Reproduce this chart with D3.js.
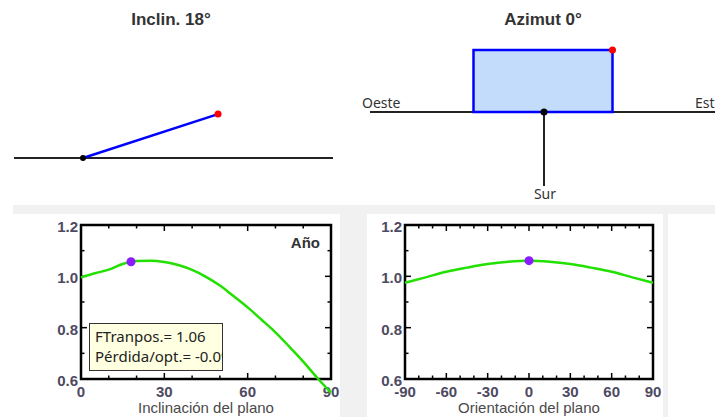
<!DOCTYPE html>
<html>
<head>
<meta charset="utf-8">
<script src="https://cdn.jsdelivr.net/npm/d3@7"></script>
<style>
  body { margin: 0; background: #fff; }
  svg { display: block; }
</style>
</head>
<body>
<div id="chart"></div>
<script>
const inclination = 18,
  azimuth = 0,
  fTranspos = 1.06;

const inclDeg = [0, 5, 10, 15, 18, 20, 25, 30, 35, 40, 45, 50, 55, 60, 65, 70, 75, 80, 85, 90];
const inclFactor = [0.996, 1.012, 1.026, 1.048, 1.057, 1.060, 1.061, 1.056, 1.044, 1.025, 0.998, 0.964, 0.922, 0.879, 0.831, 0.782, 0.726, 0.668, 0.605, 0.547];

const orientDeg = [-90, -75, -60, -45, -30, -15, 0, 15, 30, 45, 60, 75, 90];
const orientFactor = [0.975, 0.996, 1.018, 1.034, 1.048, 1.057, 1.061, 1.057, 1.048, 1.034, 1.018, 0.996, 0.975];

const yTicks = [0.6, 0.8, 1.0, 1.2];
const inclTicks = [0, 30, 60, 90];
const orientTicks = [-90, -60, -30, 0, 30, 60, 90];

const width = 715, height = 417;
const tickFont = "'Liberation Sans', Arial, sans-serif";
const labelColor = "#4e4a62";

const svg = d3.select("#chart")
  .append("svg")
  .attr("width", width)
  .attr("height", height);

// background panels
svg.append("rect").attr("x", 13).attr("y", 205).attr("width", width - 13).attr("height", 9).attr("fill", "#f1f1f1");
svg.append("rect").attr("x", 340).attr("y", 205).attr("width", 27).attr("height", height - 205).attr("fill", "#f1f1f1");
svg.append("rect").attr("x", 663).attr("y", 205).attr("width", 5).attr("height", height - 205).attr("fill", "#f1f1f1");

// ---------- top left: inclination sketch ----------
svg.append("text")
  .attr("x", 171).attr("y", 25)
  .attr("text-anchor", "middle")
  .attr("font-family", tickFont)
  .attr("font-weight", "bold")
  .attr("font-size", 17)
  .attr("fill", "#333")
  .text(`Inclin. ${inclination}°`);

const pivot = [83, 158], panelLen = 142;
const tip = [pivot[0] + panelLen * Math.cos(inclination * Math.PI / 180),
             pivot[1] - panelLen * Math.sin(inclination * Math.PI / 180)];

svg.append("line")
  .attr("x1", 14).attr("x2", 333).attr("y1", pivot[1]).attr("y2", pivot[1])
  .attr("stroke", "#222").attr("stroke-width", 2);
svg.append("line")
  .attr("x1", pivot[0]).attr("y1", pivot[1]).attr("x2", tip[0]).attr("y2", tip[1])
  .attr("stroke", "#0000ff").attr("stroke-width", 2.5);
svg.append("circle").attr("cx", pivot[0]).attr("cy", pivot[1]).attr("r", 3).attr("fill", "#000");
svg.append("circle").attr("cx", tip[0]).attr("cy", tip[1]).attr("r", 3.5).attr("fill", "#ff0000");

// ---------- top right: azimuth sketch ----------
svg.append("text")
  .attr("x", 543).attr("y", 25)
  .attr("text-anchor", "middle")
  .attr("font-family", tickFont)
  .attr("font-weight", "bold")
  .attr("font-size", 17)
  .attr("fill", "#333")
  .text(`Azimut ${azimuth}°`);

const center = [544, 112];
svg.append("line")
  .attr("x1", 370).attr("x2", width).attr("y1", center[1]).attr("y2", center[1])
  .attr("stroke", "#222").attr("stroke-width", 2);
svg.append("line")
  .attr("x1", center[0]).attr("x2", center[0]).attr("y1", center[1]).attr("y2", 186)
  .attr("stroke", "#222").attr("stroke-width", 2);

const plan = svg.append("g")
  .attr("transform", `rotate(${-azimuth},${center[0]},${center[1]})`);
plan.append("rect")
  .attr("x", center[0] - 70.5).attr("y", center[1] - 62)
  .attr("width", 139).attr("height", 62)
  .attr("fill", "#c4dcfb")
  .attr("stroke", "#0000ff").attr("stroke-width", 2.5);
plan.append("circle").attr("cx", center[0] + 68.5).attr("cy", center[1] - 62).attr("r", 3.5).attr("fill", "#ff0000");
svg.append("circle").attr("cx", center[0]).attr("cy", center[1]).attr("r", 3.5).attr("fill", "#000");

const compass = svg.append("g")
  .attr("font-family", "'Noto Sans', 'Open Sans', sans-serif")
  .attr("font-size", 14)
  .attr("fill", "#333");
compass.append("text").attr("x", 362).attr("y", 108).text("Oeste");
compass.append("text").attr("x", 695).attr("y", 108).text("Est");
compass.append("text").attr("x", 545).attr("y", 199).attr("text-anchor", "middle").text("Sur");

// ---------- bottom plots ----------
const y = d3.scaleLinear().domain([0.6, 1.2]).range([379, 225]);

function plotFrame(x, majorTicks, minorStep, title) {
  const [x0, x1] = x.range();
  const [y0, y1] = y.range();
  const g = svg.append("g");
  const minorX = d3.range(x.domain()[0], x.domain()[1] + 0.001, minorStep);
  const minorY = d3.range(0.6, 1.2001, 0.1);

  // ticks on all four sides, inward
  const ticks = g.append("g").attr("stroke", "#000").attr("stroke-width", 1.5);
  minorX.forEach(v => {
    const len = majorTicks.includes(v) ? 6 : 3.5;
    ticks.append("line").attr("x1", x(v)).attr("x2", x(v)).attr("y1", y0).attr("y2", y0 - len);
    ticks.append("line").attr("x1", x(v)).attr("x2", x(v)).attr("y1", y1).attr("y2", y1 + len);
  });
  minorY.forEach((v, i) => {
    const len = i % 2 === 0 ? 6 : 3.5;
    ticks.append("line").attr("x1", x0).attr("x2", x0 + len).attr("y1", y(v)).attr("y2", y(v));
    ticks.append("line").attr("x1", x1).attr("x2", x1 - len).attr("y1", y(v)).attr("y2", y(v));
  });

  g.append("rect")
    .attr("x", x0).attr("y", y1)
    .attr("width", x1 - x0).attr("height", y0 - y1)
    .attr("fill", "none").attr("stroke", "#000").attr("stroke-width", 2.5);

  const labels = g.append("g")
    .attr("font-family", tickFont)
    .attr("font-size", 15)
    .attr("fill", labelColor);
  labels.selectAll(".yl")
    .data(yTicks)
    .join("text")
    .attr("x", x0 - 3)
    .attr("y", d => y(d) + 7)
    .attr("text-anchor", "end")
    .attr("font-weight", "bold")
    .text(d => d.toFixed(1));
  labels.selectAll(".xl")
    .data(majorTicks)
    .join("text")
    .attr("x", d => x(d))
    .attr("y", 397)
    .attr("text-anchor", "middle")
    .attr("font-weight", "bold")
    .text(d => d);
  labels.append("text")
    .attr("x", (x0 + x1) / 2)
    .attr("y", 413)
    .attr("text-anchor", "middle")
    .attr("fill", "#4a4a4a")
    .text(title);
  return g;
}

function curve(x, xs, vs, markAt, markVal) {
  const line = d3.line().x((d, i) => x(xs[i])).y(d => y(d)).curve(d3.curveMonotoneX);
  svg.append("path")
    .datum(vs)
    .attr("d", line)
    .attr("fill", "none")
    .attr("stroke", "#22e000")
    .attr("stroke-width", 2.5);
  svg.append("circle")
    .attr("cx", x(markAt)).attr("cy", y(markVal))
    .attr("r", 4.5).attr("fill", "#8a1cff");
}

// plot 1: inclination
const xIncl = d3.scaleLinear().domain([0, 90]).range([81, 331]);
plotFrame(xIncl, inclTicks, 10, "Inclinación del plano");
curve(xIncl, inclDeg, inclFactor, inclination, inclFactor[inclDeg.indexOf(inclination)]);

svg.append("text")
  .attr("x", 320).attr("y", 248)
  .attr("text-anchor", "end")
  .attr("font-family", tickFont)
  .attr("font-weight", "bold")
  .attr("font-size", 15)
  .attr("fill", "#333")
  .text("Año");

// info box
svg.append("clipPath").attr("id", "boxclip")
  .append("rect").attr("x", 89).attr("y", 323).attr("width", 134).attr("height", 48);
svg.append("rect")
  .attr("x", 89.5).attr("y", 323.5).attr("width", 133).attr("height", 47)
  .attr("fill", "#ffffe1").attr("stroke", "#333").attr("stroke-width", 1);
const info = svg.append("g")
  .attr("clip-path", "url(#boxclip)")
  .attr("font-family", "'Noto Sans', 'Open Sans', sans-serif")
  .attr("font-size", 15)
  .attr("fill", "#222");
info.append("text").attr("x", 95).attr("y", 342).text(`FTranpos.= ${fTranspos.toFixed(2)}`);
info.append("text").attr("x", 95).attr("y", 362).text("Pérdida/opt.= -0.0%");

// plot 2: orientation
const xOrient = d3.scaleLinear().domain([-90, 90]).range([405, 653]);
plotFrame(xOrient, orientTicks, 10, "Orientación del plano");
curve(xOrient, orientDeg, orientFactor, azimuth, orientFactor[orientDeg.indexOf(azimuth)]);
</script>
</body>
</html>
